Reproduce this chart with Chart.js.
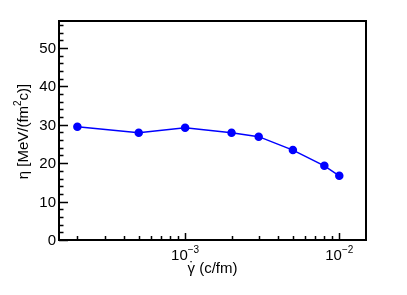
<!DOCTYPE html>
<html>
<head>
<meta charset="utf-8">
<script src="https://cdn.jsdelivr.net/npm/chart.js@4/dist/chart.umd.min.js"></script>
<style>
  html, body { margin: 0; padding: 0; background: #fff; }
  canvas { display: block; }
</style>
</head>
<body>
<canvas id="viscChart" width="407" height="295"></canvas>
<script>
// shear rate (c/fm) and viscosity values
const shearRates = [2e-4, 5e-4, 1e-3, 2e-3, 3e-3, 5e-3, 8e-3, 1e-2];
const etaValues = [29.5, 27.9, 29.2, 27.9, 26.9, 23.4, 19.3, 16.7];
const yTickValues = [0, 10, 20, 30, 40, 50];
const xTickExponents = [-3, -2];

const FONT = '"Liberation Sans", Arial, Helvetica, sans-serif';

// ROOT-like frame, inward ticks and labels
const rootAxes = {
    id: 'rootAxes',
    afterDraw(chart) {
        const ctx = chart.ctx;
        const area = chart.chartArea;
        const xs = chart.scales.x;
        const ys = chart.scales.y;
        ctx.save();
        ctx.strokeStyle = '#000';
        ctx.fillStyle = '#000';

        // y ticks: majors every 10, minors every 2
        ctx.lineWidth = 1.5;
        ctx.beginPath();
        for (let v = 0; v <= ys.max; v += 2) {
            const y = Math.round(ys.getPixelForValue(v)) + 0.5;
            const len = (v % 10 === 0) ? 9 : 4.5;
            ctx.moveTo(area.left, y);
            ctx.lineTo(area.left + len, y);
        }
        // x ticks: decades and 2..9 minors
        for (let d = -4; d <= -1; d++) {
            for (let m = 1; m <= 9; m++) {
                const v = m * Math.pow(10, d);
                if (v < xs.min || v > xs.max) continue;
                const x = Math.round(xs.getPixelForValue(v)) + 0.5;
                const len = (m === 1) ? 7 : 4;
                ctx.moveTo(x, area.bottom);
                ctx.lineTo(x, area.bottom - len);
            }
        }
        ctx.stroke();

        // frame
        ctx.lineWidth = 2;
        ctx.strokeRect(area.left, area.top, area.right - area.left, area.bottom - area.top);

        // y tick labels
        ctx.font = '15px ' + FONT;
        ctx.textAlign = 'right';
        ctx.textBaseline = 'middle';
        yTickValues.forEach(v => {
            ctx.fillText(String(v), area.left - 3, ys.getPixelForValue(v) + 1);
        });

        // x tick labels: 10^n
        ctx.textBaseline = 'alphabetic';
        ctx.textAlign = 'left';
        xTickExponents.forEach(e => {
            const x = xs.getPixelForValue(Math.pow(10, e));
            ctx.font = '15px ' + FONT;
            const base = '10';
            const bw = ctx.measureText(base).width;
            ctx.font = '10px ' + FONT;
            const sup = '\u2212' + String(-e);
            const sw = ctx.measureText(sup).width;
            const x0 = x - (bw + sw) / 2;
            ctx.font = '15px ' + FONT;
            ctx.fillText(base, x0, 260);
            ctx.font = '10px ' + FONT;
            ctx.fillText(sup, x0 + bw, 253);
        });

        // x title: gamma with a dot above
        ctx.font = '15px ' + FONT;
        const g = '\u03B3';
        const rest = ' (c/fm)';
        const gw = ctx.measureText(g).width;
        const rw = ctx.measureText(rest).width;
        const tx0 = (area.left + area.right) / 2 - (gw + rw) / 2;
        ctx.fillText(g, tx0, 273);
        ctx.fillText(rest, tx0 + gw, 273);
        ctx.textAlign = 'center';
        ctx.fillText('\u02D9', tx0 + gw / 2 + 0.5, 272);

        // y title, rotated, with superscript 2
        ctx.translate(28, (area.top + area.bottom) / 2 + 1);
        ctx.rotate(-Math.PI / 2);
        const p1 = '\u03B7 [MeV/(fm';
        const p2 = '2';
        const p3 = 'c)]';
        ctx.font = '15px ' + FONT;
        const w1 = ctx.measureText(p1).width;
        const w3 = ctx.measureText(p3).width;
        ctx.font = '10px ' + FONT;
        const w2 = ctx.measureText(p2).width;
        let tx = -(w1 + w2 + w3) / 2;
        ctx.textAlign = 'left';
        ctx.font = '15px ' + FONT;
        ctx.fillText(p1, tx, 0);
        tx += w1;
        ctx.font = '10px ' + FONT;
        ctx.fillText(p2, tx, -7);
        tx += w2;
        ctx.font = '15px ' + FONT;
        ctx.fillText(p3, tx, 0);
        ctx.restore();
    }
};

new Chart(document.getElementById('viscChart'), {
    type: 'scatter',
    data: {
        datasets: [{
            data: shearRates.map((x, i) => ({ x: x, y: etaValues[i] })),
            showLine: true,
            borderColor: '#0000ff',
            backgroundColor: '#0000ff',
            borderWidth: 1.5,
            pointRadius: 3.5,
            pointHoverRadius: 3.5
        }]
    },
    options: {
        responsive: false,
        animation: false,
        layout: { padding: { left: 59, top: 21, right: 41, bottom: 55 } },
        plugins: { legend: { display: false }, tooltip: { enabled: false } },
        scales: {
            x: { type: 'logarithmic', min: 1.52e-4, max: 1.49e-2, display: false },
            y: { type: 'linear', min: 0, max: 57, display: false }
        }
    },
    plugins: [rootAxes]
});
</script>
</body>
</html>
